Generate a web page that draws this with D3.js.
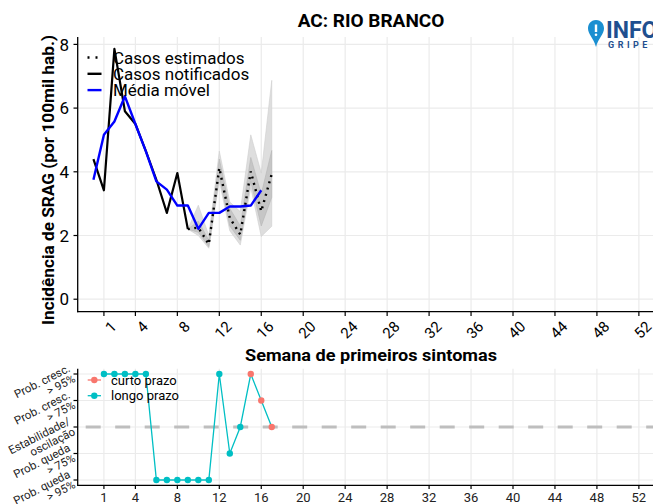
<!DOCTYPE html>
<meta charset="utf-8">
<script src="https://cdn.jsdelivr.net/npm/d3@7"></script>
<style>
    body { margin: 0; background: #fff; }
    svg text { font-family: Roboto, "Liberation Sans", sans-serif; }
</style>
<svg id="chart" width="653" height="504"></svg>
<script>
    // weekly incidence (per 100k)
    var notifWeeks = [0, 1, 2, 3, 4, 5, 6, 7, 8, 9];
    var notified = [4.40, 3.42, 7.86, 5.90, 5.50, 4.65, 3.75, 2.71, 3.96, 2.20];

    var mmWeeks = [0, 1, 2, 3, 4, 5, 6, 7, 8, 9, 10, 11, 12, 13, 14, 15, 16];
    var movingAvg = [3.75, 5.16, 5.58, 6.37, 5.50, 4.64, 3.70, 3.44, 2.94, 2.94, 2.21, 2.71, 2.71, 2.91, 2.91, 2.94, 3.42];

    var estWeeks = [9, 10, 11, 12, 13, 14, 15, 16, 17];
    var estimated = [2.20, 2.25, 1.73, 4.12, 2.55, 2.03, 4.01, 2.76, 3.93];
    var ci50Low = [2.20, 2.10, 1.65, 3.85, 2.30, 1.85, 3.70, 2.30, 3.20];
    var ci50High = [2.20, 2.45, 1.85, 4.40, 2.85, 2.30, 4.45, 3.30, 4.67];
    var ci95Low = [2.20, 2.00, 1.60, 3.70, 2.15, 1.70, 3.50, 1.97, 2.29];
    var ci95High = [2.20, 2.95, 2.00, 4.65, 3.05, 2.75, 5.16, 3.96, 6.87];

    var xTicks = [1, 4, 8, 12, 16, 20, 24, 28, 32, 36, 40, 44, 48, 52];
    var yTicks = [0, 2, 4, 6, 8];

    // trend panel
    var trendWeeks = [1, 2, 3, 4, 5, 6, 7, 8, 9, 10, 11, 12, 13, 14, 15, 16, 17];
    var trendLevel = [2, 2, 2, 2, 2, -2, -2, -2, -2, -2, -2, 2, -1, 0, 2, 1, 0];
    var trendType = ["longo prazo", "longo prazo", "longo prazo", "longo prazo", "longo prazo",
        "longo prazo", "longo prazo", "longo prazo", "longo prazo", "longo prazo", "longo prazo",
        "longo prazo", "longo prazo", "longo prazo", "curto prazo", "curto prazo", "curto prazo"];
    var levelValues = [-2, -1, 0, 1, 2];
    var levelLabels = [["Prob. queda", "> 95%"], ["Prob. queda", "> 75%"], ["Estabilidade/", "oscilação"],
        ["Prob. cresc.", "> 75%"], ["Prob. cresc.", "> 95%"]];
    var trendColors = { "curto prazo": "#F8766D", "longo prazo": "#00BFC4" };

    var svg = d3.select("#chart");
    var grid = "#ebebeb";

    var x = d3.scaleLinear().domain([-1.5, 54.5]).range([77.7, 665.1]);
    var y = d3.scaleLinear().domain([-0.392, 8.232]).range([311.7, 37]);
    var y2 = d3.scaleLinear().domain([-2.2, 2.2]).range([485.3, 368.7]);

    // ---------- top panel ----------
    var gTop = svg.append("g");

    gTop.append("g").selectAll("line").data(yTicks).join("line")
        .attr("x1", 77.7).attr("x2", 653)
        .attr("y1", function(d) { return y(d); }).attr("y2", function(d) { return y(d); })
        .attr("stroke", grid).attr("stroke-width", 1.2);
    gTop.append("g").selectAll("line").data(xTicks).join("line")
        .attr("x1", function(d) { return x(d); }).attr("x2", function(d) { return x(d); })
        .attr("y1", 37).attr("y2", 311.7)
        .attr("stroke", grid).attr("stroke-width", 1.2);

    var est = estWeeks.map(function(w, i) {
        return { w: w, v: estimated[i], l50: ci50Low[i], h50: ci50High[i], l95: ci95Low[i], h95: ci95High[i] };
    });

    gTop.append("path").datum(est)
        .attr("fill", "#dedede").attr("stroke", "#cfcfcf").attr("stroke-width", 0.6)
        .attr("d", d3.area()
            .x(function(d) { return x(d.w); })
            .y0(function(d) { return y(d.l95); })
            .y1(function(d) { return y(d.h95); }));
    gTop.append("path").datum(est)
        .attr("fill", "#c6c6c6").attr("stroke", "#b5b5b5").attr("stroke-width", 0.6)
        .attr("d", d3.area()
            .x(function(d) { return x(d.w); })
            .y0(function(d) { return y(d.l50); })
            .y1(function(d) { return y(d.h50); }));

    var line = d3.line()
        .x(function(d) { return x(d[0]); })
        .y(function(d) { return y(d[1]); });

    gTop.append("path")
        .datum(notifWeeks.map(function(w, i) { return [w, notified[i]]; }))
        .attr("fill", "none").attr("stroke", "#000").attr("stroke-width", 2.2)
        .attr("stroke-linejoin", "round")
        .attr("d", line);

    gTop.append("path")
        .datum(est.map(function(d) { return [d.w, d.v]; }))
        .attr("fill", "none").attr("stroke", "#000").attr("stroke-width", 2.4)
        .attr("stroke-dasharray", "2,4.5")
        .attr("d", line);

    gTop.append("path")
        .datum(mmWeeks.map(function(w, i) { return [w, movingAvg[i]]; }))
        .attr("fill", "none").attr("stroke", "#0000ff").attr("stroke-width", 2.4)
        .attr("stroke-linejoin", "round")
        .attr("d", line);

    // axes
    gTop.append("line").attr("x1", 77.7).attr("x2", 77.7).attr("y1", 37).attr("y2", 312.3)
        .attr("stroke", "#000").attr("stroke-width", 1.3);
    gTop.append("line").attr("x1", 77.1).attr("x2", 653).attr("y1", 311.7).attr("y2", 311.7)
        .attr("stroke", "#000").attr("stroke-width", 1.3);

    gTop.append("g").selectAll("line").data(yTicks).join("line")
        .attr("x1", 73.5).attr("x2", 77.7)
        .attr("y1", function(d) { return y(d); }).attr("y2", function(d) { return y(d); })
        .attr("stroke", "#000").attr("stroke-width", 1.2);
    gTop.append("g").selectAll("text").data(yTicks).join("text")
        .attr("x", 69).attr("y", function(d) { return y(d); })
        .attr("dy", "0.36em").attr("text-anchor", "end")
        .attr("font-size", 17).attr("fill", "#000")
        .text(function(d) { return d; });

    gTop.append("g").selectAll("line").data(xTicks).join("line")
        .attr("x1", function(d) { return x(d); }).attr("x2", function(d) { return x(d); })
        .attr("y1", 311.7).attr("y2", 316)
        .attr("stroke", "#000").attr("stroke-width", 1.2);
    gTop.append("g").selectAll("text").data(xTicks).join("text")
        .attr("transform", function(d) { return "translate(" + (x(d) + 6) + ",320) rotate(-45)"; })
        .attr("text-anchor", "end").attr("dy", "0.71em")
        .attr("font-size", 15).attr("fill", "#000")
        .text(function(d) { return d; });

    // titles
    svg.append("text")
        .attr("x", 371).attr("y", 27).attr("text-anchor", "middle")
        .attr("font-size", 19).attr("font-weight", "bold")
        .text("AC: RIO BRANCO");

    svg.append("text")
        .attr("transform", "translate(54,180) rotate(-90)")
        .attr("text-anchor", "middle")
        .attr("font-size", 17).attr("font-weight", "bold")
        .attr("textLength", 290).attr("lengthAdjust", "spacingAndGlyphs")
        .text("Incidência de SRAG (por 100mil hab.)");

    svg.append("text")
        .attr("x", 371).attr("y", 361).attr("text-anchor", "middle")
        .attr("font-size", 17).attr("font-weight", "bold")
        .attr("textLength", 252).attr("lengthAdjust", "spacingAndGlyphs")
        .text("Semana de primeiros sintomas");

    // top legend
    var legTop = [
        { label: "Casos estimados", color: "#000", dash: "2,6" },
        { label: "Casos notificados", color: "#000", dash: null },
        { label: "Média móvel", color: "#0000ff", dash: null }
    ];
    var lg = svg.append("g").selectAll("g").data(legTop).join("g")
        .attr("transform", function(d, i) { return "translate(0," + (57.5 + i * 16.3) + ")"; });
    lg.append("line")
        .attr("x1", 87.5).attr("x2", 101.5)
        .attr("stroke", function(d) { return d.color; })
        .attr("stroke-width", 2.4)
        .attr("stroke-dasharray", function(d) { return d.dash; });
    lg.append("text")
        .attr("x", 113).attr("dy", "0.36em")
        .attr("font-size", 17)
        .text(function(d) { return d.label; });

    // logo (cut by the right edge, as in the source image)
    var logo = svg.append("g").attr("transform", "translate(596,33)");
    logo.append("path")
        .attr("d", "M0,-13 C-5.5,-13 -8,-8.5 -8,-4.5 C-8,1 -2.5,5 0,14 C2.5,5 8,1 8,-4.5 C8,-8.5 5.5,-13 0,-13 Z")
        .attr("fill", "#1b8fd1");
    logo.append("rect").attr("x", -1.2).attr("y", -8.5).attr("width", 2.4).attr("height", 7.5).attr("fill", "#fff");
    logo.append("circle").attr("cx", 0).attr("cy", 1.8).attr("r", 1.3).attr("fill", "#fff");
    logo.append("text")
        .attr("x", 10).attr("y", 5)
        .attr("font-size", 23).attr("font-weight", "bold").attr("fill", "#1f4f8f")
        .text("INFO");
    logo.append("text")
        .attr("x", 12).attr("y", 15)
        .attr("font-size", 9).attr("font-weight", "bold").attr("fill", "#1f4f8f")
        .attr("letter-spacing", 3.5)
        .text("GRIPE");

    // ---------- bottom panel ----------
    var gBot = svg.append("g");

    gBot.append("g").selectAll("line").data(levelValues).join("line")
        .attr("x1", 77.7).attr("x2", 653)
        .attr("y1", function(d) { return y2(d); }).attr("y2", function(d) { return y2(d); })
        .attr("stroke", grid).attr("stroke-width", 1.2);
    gBot.append("g").selectAll("line").data(xTicks).join("line")
        .attr("x1", function(d) { return x(d); }).attr("x2", function(d) { return x(d); })
        .attr("y1", 368.7).attr("y2", 485.3)
        .attr("stroke", grid).attr("stroke-width", 1.2);

    gBot.append("line")
        .attr("x1", 77.7).attr("x2", 653)
        .attr("y1", y2(0)).attr("y2", y2(0))
        .attr("stroke", "#bebebe").attr("stroke-width", 3)
        .attr("stroke-dasharray", "15,14.5").attr("stroke-dashoffset", -8);

    var trend = trendWeeks.map(function(w, i) { return { w: w, v: trendLevel[i], t: trendType[i] }; });

    gBot.append("path").datum(trend)
        .attr("fill", "none").attr("stroke", trendColors["longo prazo"]).attr("stroke-width", 1.3)
        .attr("d", d3.line()
            .x(function(d) { return x(d.w); })
            .y(function(d) { return y2(d.v); }));
    gBot.append("g").selectAll("circle").data(trend).join("circle")
        .attr("cx", function(d) { return x(d.w); })
        .attr("cy", function(d) { return y2(d.v); })
        .attr("r", 3.2)
        .attr("fill", function(d) { return trendColors[d.t]; });

    gBot.append("line").attr("x1", 77.7).attr("x2", 77.7).attr("y1", 368.7).attr("y2", 485.9)
        .attr("stroke", "#000").attr("stroke-width", 1.3);
    gBot.append("line").attr("x1", 77.1).attr("x2", 653).attr("y1", 485.3).attr("y2", 485.3)
        .attr("stroke", "#000").attr("stroke-width", 1.3);

    gBot.append("g").selectAll("line").data(levelValues).join("line")
        .attr("x1", 73.5).attr("x2", 77.7)
        .attr("y1", function(d) { return y2(d); }).attr("y2", function(d) { return y2(d); })
        .attr("stroke", "#000").attr("stroke-width", 1.2);
    var yl = gBot.append("g").selectAll("text").data(levelValues).join("text")
        .attr("transform", function(d) { return "translate(72," + (y2(d) - 1) + ") rotate(-27)"; })
        .attr("text-anchor", "end")
        .attr("font-size", 11.5).attr("fill", "#222");
    yl.append("tspan").attr("x", 0).attr("dy", "-0.2em")
        .text(function(d, i) { return levelLabels[i][0]; });
    yl.append("tspan").attr("x", 0).attr("dy", "1.0em")
        .text(function(d, i) { return levelLabels[i][1]; });

    gBot.append("g").selectAll("line").data(xTicks).join("line")
        .attr("x1", function(d) { return x(d); }).attr("x2", function(d) { return x(d); })
        .attr("y1", 485.3).attr("y2", 489)
        .attr("stroke", "#000").attr("stroke-width", 1.2);
    gBot.append("g").selectAll("text").data(xTicks).join("text")
        .attr("x", function(d) { return x(d); }).attr("y", 502)
        .attr("text-anchor", "middle")
        .attr("font-size", 13).attr("fill", "#222")
        .text(function(d) { return d; });

    // bottom legend
    var legBot = ["curto prazo", "longo prazo"];
    var lb = svg.append("g").selectAll("g").data(legBot).join("g")
        .attr("transform", function(d, i) { return "translate(0," + (380 + i * 15.7) + ")"; });
    lb.append("line").attr("x1", 87.7).attr("x2", 101)
        .attr("stroke", function(d) { return trendColors[d]; }).attr("stroke-width", 1.3);
    lb.append("circle").attr("cx", 94.3).attr("r", 3.2)
        .attr("fill", function(d) { return trendColors[d]; });
    lb.append("text").attr("x", 111).attr("dy", "0.36em")
        .attr("font-size", 13)
        .text(function(d) { return d; });
</script>
